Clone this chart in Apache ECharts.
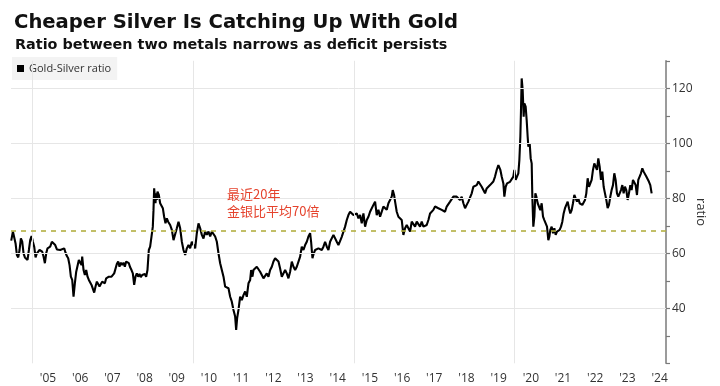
<!DOCTYPE html>
<html>
<head>
<meta charset="utf-8">
<script src="https://cdn.jsdelivr.net/npm/echarts@6.0.0/dist/echarts.min.js"></script>
<style>
html,body{margin:0;padding:0;background:#fff;}
#chart{width:720px;height:386px;}
</style>
</head>
<body>
<div id="chart"></div>
<script>
// ---- data (decimal year, gold/silver ratio) ----
const ratio2004_2009 = [
[2004.357,64.6],[2004.409,67.9],[2004.450,67.3],[2004.492,63.6],[2004.533,59.4],[2004.575,58.5],[2004.616,61.2],[2004.657,65.4],[2004.699,64.2],[2004.740,60.0],[2004.782,58.5],[2004.823,59.0],[2004.864,57.6],[2004.906,61.2],[2004.947,64.8],[2004.989,66.3],
[2005.030,64.2],[2005.071,62.4],[2005.113,58.5],[2005.154,60.0],[2005.196,59.4],[2005.237,61.2],[2005.278,61.8],[2005.320,60.6],[2005.361,58.8],[2005.403,56.4],[2005.444,60.0],[2005.485,61.8],[2005.527,61.2],[2005.568,62.4],[2005.620,64.2],[2005.672,64.6],[2005.724,63.0],[2005.776,61.4],[2005.827,61.8],[2005.879,61.2],[2005.941,60.6],
[2006.003,61.8],[2006.045,60.2],[2006.086,59.0],[2006.127,58.2],[2006.169,55.7],[2006.210,51.5],[2006.252,50.3],[2006.293,44.2],[2006.334,49.1],[2006.376,53.3],[2006.417,53.9],[2006.458,57.6],[2006.500,58.2],[2006.541,55.7],[2006.562,58.8],[2006.604,53.9],[2006.645,52.1],[2006.686,53.9],[2006.728,51.5],[2006.769,50.3],[2006.811,50.9],[2006.852,48.5],[2006.893,47.9],[2006.935,45.7],[2006.976,47.9],
[2007.018,49.7],[2007.059,49.1],[2007.100,47.9],[2007.142,48.1],[2007.183,49.7],[2007.225,50.3],[2007.266,49.1],[2007.307,50.9],[2007.349,50.3],[2007.390,51.5],[2007.432,50.9],[2007.473,51.5],[2007.514,51.7],[2007.556,52.7],[2007.597,53.3],[2007.638,56.1],[2007.680,57.0],[2007.721,55.1],[2007.763,56.6],[2007.804,55.7],[2007.845,56.6],[2007.887,55.1],[2007.928,57.0],[2007.970,57.3],
[2008.011,56.4],[2008.052,54.9],[2008.094,53.9],[2008.135,52.7],[2008.177,48.5],[2008.218,51.5],[2008.259,52.7],[2008.301,51.5],[2008.342,52.5],[2008.383,51.3],[2008.425,52.1],[2008.466,51.7],[2008.508,52.5],[2008.549,51.5],[2008.590,53.9],[2008.632,61.2],[2008.673,62.4],[2008.715,66.1],[2008.756,69.7],[2008.777,75.7],[2008.798,83.6],[2008.818,80.6],[2008.839,78.2],[2008.860,81.8],[2008.881,79.4],[2008.901,82.4],[2008.943,81.2],[2008.984,78.2],
[2009.025,78.8],[2009.067,76.4],[2009.108,73.3],[2009.150,70.9],[2009.191,72.7],[2009.232,71.5],[2009.274,70.9]
];
const ratio2009_2014 = [
[2009.295,70.3],[2009.347,68.5],[2009.399,64.8],[2009.451,64.2],[2009.502,69.1],[2009.554,71.5],[2009.606,69.1],[2009.658,64.2],[2009.709,61.2],[2009.761,59.4],[2009.813,61.8],[2009.865,63.0],[2009.916,61.8],[2009.968,64.2],
[2010.020,63.0],[2010.072,61.8],[2010.123,67.3],[2010.175,70.9],[2010.227,69.1],[2010.279,66.7],[2010.330,65.4],[2010.382,67.9],[2010.434,66.7],[2010.486,67.9],[2010.538,66.1],[2010.589,67.9],[2010.641,67.3],[2010.693,66.1],[2010.745,64.2],[2010.796,60.0],[2010.848,56.4],[2010.900,53.9],[2010.952,51.5],
[2011.003,47.9],[2011.055,48.5],[2011.107,47.3],[2011.159,44.2],[2011.210,42.4],[2011.262,39.4],[2011.314,37.0],[2011.345,32.1],[2011.376,36.4],[2011.417,39.4],[2011.469,44.2],[2011.521,43.0],[2011.573,44.8],[2011.624,46.1],[2011.676,44.2],[2011.728,49.1],[2011.780,50.3],[2011.811,53.9],[2011.852,51.5],[2011.883,53.9],[2011.935,53.3],[2011.987,55.1],
[2012.039,55.7],[2012.090,53.3],[2012.142,53.9],[2012.194,50.9],[2012.246,51.5],[2012.297,52.7],[2012.349,51.5],[2012.401,53.9],[2012.453,55.1],[2012.504,57.0],[2012.556,58.2],[2012.608,58.2],[2012.660,57.0],[2012.711,54.5],[2012.763,51.5],[2012.815,52.1],[2012.867,53.9],[2012.918,52.7],[2012.970,50.9],
[2013.022,53.3],[2013.074,57.0],[2013.126,55.1],[2013.177,53.9],[2013.229,55.1],[2013.281,55.7],[2013.333,58.8],[2013.384,62.4],[2013.436,61.2],[2013.488,63.0],[2013.540,64.2],[2013.591,66.1],[2013.643,67.3],[2013.674,64.2],[2013.716,58.2],[2013.757,60.0],[2013.799,61.2],[2013.850,60.6],[2013.902,61.8],[2013.954,62.4],
[2014.006,61.2],[2014.057,62.4],[2014.109,64.2],[2014.161,62.4],[2014.212,61.2],[2014.264,64.2]
];
const ratio2014_2019 = [
[2014.368,66.7],[2014.419,66.0],[2014.471,64.2],[2014.523,63.0],[2014.575,63.6],[2014.626,66.0],[2014.678,66.7],[2014.730,69.7],[2014.782,72.1],[2014.833,73.9],[2014.885,75.1],[2014.937,74.5],[2014.989,73.9],
[2015.040,73.3],[2015.092,74.5],[2015.144,72.7],[2015.196,73.9],[2015.247,70.9],[2015.299,74.5],[2015.351,69.7],[2015.403,72.1],[2015.455,73.3],[2015.506,75.1],[2015.558,75.8],[2015.610,77.6],[2015.662,78.8],[2015.713,73.9],[2015.765,75.8],[2015.817,73.3],[2015.869,73.9],[2015.920,77.0],[2015.972,77.6],
[2016.024,75.8],[2016.076,78.2],[2016.127,77.6],[2016.179,80.6],[2016.210,83.0],[2016.252,81.2],[2016.283,78.8],[2016.334,75.1],[2016.386,73.3],[2016.438,73.9],[2016.490,72.1],[2016.541,66.7],[2016.593,69.1],[2016.645,70.3],[2016.697,70.9],[2016.749,67.9],[2016.800,71.5],[2016.852,72.1],[2016.904,69.7],[2016.956,71.5],
[2017.007,70.9],[2017.059,69.7],[2017.111,71.5],[2017.163,69.7],[2017.214,69.1],[2017.266,70.3],[2017.318,72.1],[2017.370,74.5],[2017.421,75.1],[2017.473,75.8],[2017.525,77.0],[2017.577,77.6],[2017.628,76.4],[2017.680,77.0],[2017.732,75.8],[2017.784,76.4],[2017.835,75.1],[2017.887,77.0],[2017.939,77.6],[2017.991,78.8],
[2018.042,79.4],[2018.094,80.6],[2018.146,81.2],[2018.198,80.6],[2018.249,80.0],[2018.301,79.4],[2018.353,80.6],[2018.405,78.2],[2018.457,76.4],[2018.508,77.6],[2018.560,78.8],[2018.612,79.4],[2018.664,81.8],[2018.715,84.2],[2018.767,83.6],[2018.819,84.8],[2018.871,86.1],[2018.922,85.5],[2018.974,84.2],
[2019.026,83.0],[2019.078,81.8],[2019.129,83.6],[2019.181,84.2],[2019.233,84.8],[2019.285,85.5],[2019.336,86.1]
];
const ratio2019_2024 = [
[2019.388,87.9],[2019.440,90.3],[2019.492,92.1],[2019.523,92.7],[2019.554,90.3],[2019.595,87.9],[2019.647,85.4],[2019.678,80.6],[2019.719,84.2],[2019.761,85.4],[2019.802,84.8],[2019.854,86.0],[2019.906,85.4],[2019.957,87.9],[2019.988,90.3],
[2020.030,86.7],[2020.071,87.9],[2020.113,89.1],[2020.144,93.9],[2020.175,102.4],[2020.195,112.1],[2020.216,123.6],[2020.247,119.4],[2020.278,109.7],[2020.299,114.5],[2020.340,113.3],[2020.371,108.5],[2020.402,102.4],[2020.423,98.8],[2020.465,100.0],[2020.496,94.5],[2020.527,92.7],[2020.547,80.6],[2020.578,69.7],[2020.610,73.3],[2020.641,81.8],[2020.672,80.6],[2020.713,78.2],[2020.755,78.8],[2020.796,75.7],[2020.837,78.2],[2020.879,73.3],[2020.920,72.1],[2020.961,72.7],
[2021.003,69.7],[2021.044,64.8],[2021.075,66.0],[2021.106,68.5],[2021.148,69.7],[2021.189,67.3],[2021.231,69.1],[2021.272,66.7],[2021.313,67.9],[2021.355,67.3],[2021.396,68.5],[2021.438,69.7],[2021.479,71.5],[2021.520,74.5],[2021.562,76.4],[2021.603,77.0],[2021.645,78.8],[2021.686,76.4],[2021.727,74.5],[2021.769,75.7],[2021.810,78.2],[2021.852,81.2],[2021.893,80.0],[2021.935,78.8],[2021.976,80.0],
[2022.017,78.2],[2022.059,78.8],[2022.100,77.6],[2022.142,77.0],[2022.183,79.4],[2022.224,81.8],[2022.266,87.3],[2022.307,84.2],[2022.349,85.4],[2022.390,86.7],[2022.431,90.3],[2022.473,92.7],[2022.514,91.5],[2022.556,90.3],[2022.597,94.5],[2022.639,91.5],[2022.680,86.7],[2022.721,89.7],[2022.763,84.2],[2022.804,81.8],[2022.846,79.4],[2022.887,76.4],[2022.928,77.6],[2022.970,80.6],
[2023.011,83.0],[2023.053,84.8],[2023.094,89.1],[2023.135,86.7],[2023.177,81.8],[2023.218,80.6],[2023.260,80.0],[2023.301,83.0],[2023.343,84.8],[2023.384,81.8],[2023.425,84.2],[2023.467,83.0],[2023.508,79.4],[2023.549,81.8],[2023.591,84.8],[2023.632,83.0],[2023.674,86.7],[2023.715,86.0],[2023.757,84.8],[2023.798,81.2],[2023.839,86.7],[2023.881,87.9],[2023.922,89.1],[2023.964,90.9],
[2024.005,89.7],[2024.047,89.1],[2024.088,87.9],[2024.129,88.5],[2024.171,86.0],[2024.212,84.8],[2024.254,81.8]
];
const labelYears = [2005,2006,2007,2008,2009,2010,2011,2012,2013,2014,2015,2016,2017,2018,2019,2020,2021,2022,2023,2024];
const gridYears = [2005,2010,2015,2020];
const gridValues = [40,60,80,100,120];
const yLabelValues = [40,60,80,100,120];
const avgLevel = 68.3;
const seriesName = 'Gold-Silver ratio';
const titleText = 'Cheaper Silver Is Catching Up With Gold';
const subtitleText = 'Ratio between two metals narrows as deficit persists';
const noteLines = ['最近20年', '金银比平均70倍'];

const ratioData = [].concat(ratio2004_2009, ratio2009_2014, ratio2014_2019, ratio2019_2024);

const chart = echarts.init(document.getElementById('chart'), null, {renderer: 'canvas'});
const option = {
  animation: false,
  backgroundColor: '#ffffff',
  title: [
    {text: titleText, left: 9, top: 8,
     textStyle: {fontFamily: 'DejaVu Sans', fontWeight: 'bold', fontSize: 19.6, color: '#111'}},
    {text: subtitleText, left: 10, top: 33,
     textStyle: {fontFamily: 'DejaVu Sans', fontWeight: 'bold', fontSize: 14.4, color: '#111'}}
  ],
  legend: {
    data: [seriesName], left: 12, top: 57, icon: 'rect', itemWidth: 7, itemHeight: 7,
    padding: [6, 6, 6, 5], backgroundColor: '#f3f3f3',
    textStyle: {fontFamily: 'Open Sans', fontSize: 11, color: '#333'},
    itemStyle: {color: '#000'}
  },
  grid: {left: 11, right: 54, top: 60.8, bottom: 22.7, outerBoundsMode: 'none', containLabel: false},
  xAxis: {
    type: 'value', min: 2004.35, max: 2024.70,
    axisLine: {show: false}, axisTick: {show: false}, splitLine: {show: false},
    axisLabel: {
      customValues: labelYears.map(y => y + 0.5),
      formatter: v => "'" + String(Math.floor(v)).slice(2),
      color: '#333', fontSize: 12, fontFamily: 'Open Sans', margin: 9
    }
  },
  yAxis: {
    type: 'value', position: 'right', min: 20, max: 130, interval: 10,
    axisLine: {show: true, lineStyle: {color: '#7a7a7a', width: 1.5}},
    axisTick: {show: true, inside: false, length: 4, lineStyle: {color: '#7a7a7a', width: 1.2}},
    axisLabel: {
      margin: 6, color: '#333', fontSize: 12, fontFamily: 'Open Sans',
      formatter: v => yLabelValues.indexOf(v) >= 0 ? String(v) : ''
    },
    splitLine: {show: false},
    name: 'ratio', nameLocation: 'middle', nameRotate: -90, nameGap: 28, nameMoveOverlap: false,
    nameTextStyle: {fontFamily: 'Open Sans', fontSize: 13, color: '#333'}
  },
  graphic: [
    {type: 'text', left: 227, top: 188, z: 10,
     style: {text: noteLines[0], fill: '#e5432d', font: '13px "Noto Sans CJK SC"'}},
    {type: 'text', left: 227, top: 205, z: 10,
     style: {text: noteLines[1], fill: '#e5432d', font: '13px "Noto Sans CJK SC"'}}
  ],
  series: [
    {
      name: 'grid', type: 'line', data: [], z: 1, silent: true,
      markLine: {
        silent: true, symbol: ['none', 'none'], label: {show: false},
        data: gridValues.map(v => ({yAxis: v, lineStyle: {color: '#e6e6e6', type: 'solid', width: 1}}))
          .concat(gridYears.map(y => ({xAxis: y, lineStyle: {color: '#e6e6e6', type: 'solid', width: 1}})))
          .concat([{yAxis: avgLevel, lineStyle: {color: '#b3b043', type: [5, 5], width: 1.6}}])
      }
    },
    {
      name: seriesName, type: 'line', data: ratioData, z: 3,
      showSymbol: false, symbol: 'none',
      lineStyle: {color: '#000', width: 2.1}, itemStyle: {color: '#000'}
    }
  ]
};
chart.setOption(option);
</script>
</body>
</html>
